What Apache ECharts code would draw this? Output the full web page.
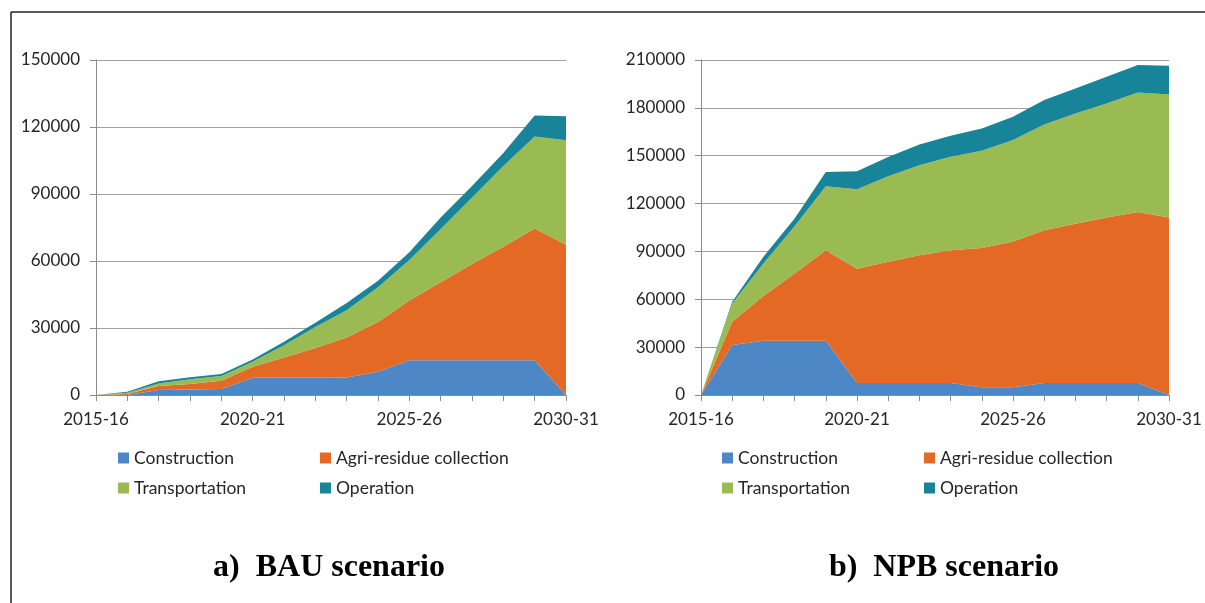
<!DOCTYPE html>
<html>
<head>
<meta charset="utf-8">
<script src="https://cdn.jsdelivr.net/npm/echarts@6/dist/echarts.min.js"></script>
<style>
  html, body { margin: 0; padding: 0; background: #fff; }
  #chart { width: 1205px; height: 603px; }
</style>
</head>
<body>
<div id="chart"></div>
<script>
// years on the x axis (same for both panels)
const years = ['2015-16', '2016-17', '2017-18', '2018-19', '2019-20', '2020-21', '2021-22', '2022-23',
  '2023-24', '2024-25', '2025-26', '2026-27', '2027-28', '2028-29', '2029-30', '2030-31'];

// a) BAU scenario
const bauConstruction = [0, 0, 2200, 2500, 2700, 7700, 7700, 7700, 7800, 10400, 15600, 15600, 15600, 15600, 15600, 0];
const bauAgri = [0, 400, 1800, 2400, 3700, 4900, 9100, 13400, 17900, 22300, 26700, 34900, 43100, 50800, 59000, 67300];
const bauTransport = [0, 600, 1200, 2100, 2100, 2300, 5500, 9300, 12300, 15600, 18100, 23800, 29700, 36100, 41200, 46800];
const bauOperation = [0, 500, 1000, 900, 900, 1000, 1500, 2000, 3200, 2900, 3500, 5200, 5200, 5900, 9400, 10700];

// b) NPB scenario
const npbConstruction = [0, 31300, 34000, 34000, 34000, 7500, 7500, 7500, 7500, 4800, 4800, 7500, 7500, 7500, 7500, 0];
const npbAgri = [0, 14600, 28000, 42200, 56800, 71600, 76000, 80100, 83200, 87300, 91500, 95700, 99900, 103700, 107200, 111200];
const npbTransport = [0, 11500, 20400, 29600, 40000, 49800, 53600, 56400, 58600, 61000, 63500, 66400, 69100, 71600, 75000, 77200];
const npbOperation = [0, 1000, 4200, 4800, 9000, 11300, 12100, 13100, 13200, 14000, 14700, 15300, 15700, 16700, 17200, 18000];

const seriesNames = ['Construction', 'Agri-residue collection', 'Transportation', 'Operation'];
const colors = ['#4E87C6', '#E36924', '#9ABB52', '#178499'];

const font = 'Lato, "Open Sans", sans-serif';
const textColor = '#262626';

function areaSeries(name, data, idx, stack) {
  return {
    name: name,
    type: 'line',
    stack: stack,
    xAxisIndex: idx,
    yAxisIndex: idx,
    data: data,
    symbol: 'none',
    lineStyle: { width: 0 },
    areaStyle: { opacity: 1 },
    color: colors[seriesNames.indexOf(name)]
  };
}

function xAxis(gridIndex) {
  return {
    type: 'category',
    gridIndex: gridIndex,
    data: years,
    boundaryGap: false,
    axisLine: { lineStyle: { color: '#8c8c8c', width: 1 } },
    axisTick: { show: true, interval: 0, length: 6, lineStyle: { color: '#8c8c8c' } },
    axisLabel: { interval: 4, color: textColor, fontFamily: font, fontSize: 17, margin: 16 }
  };
}

function yAxis(gridIndex, max) {
  return {
    type: 'value',
    gridIndex: gridIndex,
    min: 0,
    max: max,
    interval: 30000,
    axisLine: { show: true, lineStyle: { color: '#8c8c8c', width: 1 } },
    axisTick: { show: true, length: 6, lineStyle: { color: '#8c8c8c' } },
    axisLabel: { color: textColor, fontFamily: font, fontSize: 17, margin: 16, formatter: v => String(v) },
    splitLine: { lineStyle: { color: '#a0a0a0', width: 1 } }
  };
}

function legend(names, left) {
  return {
    orient: 'vertical',
    left: left,
    top: 444,
    data: names,
    icon: 'rect',
    itemWidth: 11,
    itemHeight: 11,
    itemGap: 12,
    selectedMode: false,
    textStyle: { color: textColor, fontFamily: font, fontSize: 17.5 }
  };
}

const chart = echarts.init(document.getElementById('chart'));

chart.setOption({
  animation: false,
  grid: [
    { left: 96, top: 60, width: 470, height: 335 },
    { left: 701, top: 60, width: 468, height: 335 }
  ],
  xAxis: [xAxis(0), xAxis(1)],
  yAxis: [yAxis(0, 150000), yAxis(1, 210000)],
  legend: [
    legend(['Construction', 'Transportation'], 113),
    legend(['Agri-residue collection', 'Operation'], 315),
    legend(['Construction', 'Transportation'], 717),
    legend(['Agri-residue collection', 'Operation'], 919)
  ],
  series: [
    areaSeries('Construction', bauConstruction, 0, 'bau'),
    areaSeries('Agri-residue collection', bauAgri, 0, 'bau'),
    areaSeries('Transportation', bauTransport, 0, 'bau'),
    areaSeries('Operation', bauOperation, 0, 'bau'),
    areaSeries('Construction', npbConstruction, 1, 'npb'),
    areaSeries('Agri-residue collection', npbAgri, 1, 'npb'),
    areaSeries('Transportation', npbTransport, 1, 'npb'),
    areaSeries('Operation', npbOperation, 1, 'npb')
  ],
  graphic: [
    // frame around the figure (top and left edge)
    { type: 'line', shape: { x1: 11, y1: 12, x2: 1205, y2: 12 }, style: { stroke: '#222', lineWidth: 1.5 } },
    { type: 'line', shape: { x1: 11, y1: 12, x2: 11, y2: 603 }, style: { stroke: '#222', lineWidth: 1.5 } },
    // panel captions
    {
      type: 'text', x: 329, y: 568,
      style: { text: 'a)  BAU scenario', font: 'bold 32px "Liberation Serif", "Times New Roman", serif',
        fill: '#000', textAlign: 'center', textVerticalAlign: 'middle' }
    },
    {
      type: 'text', x: 944, y: 568,
      style: { text: 'b)  NPB scenario', font: 'bold 32px "Liberation Serif", "Times New Roman", serif',
        fill: '#000', textAlign: 'center', textVerticalAlign: 'middle' }
    }
  ]
});
</script>
</body>
</html>
